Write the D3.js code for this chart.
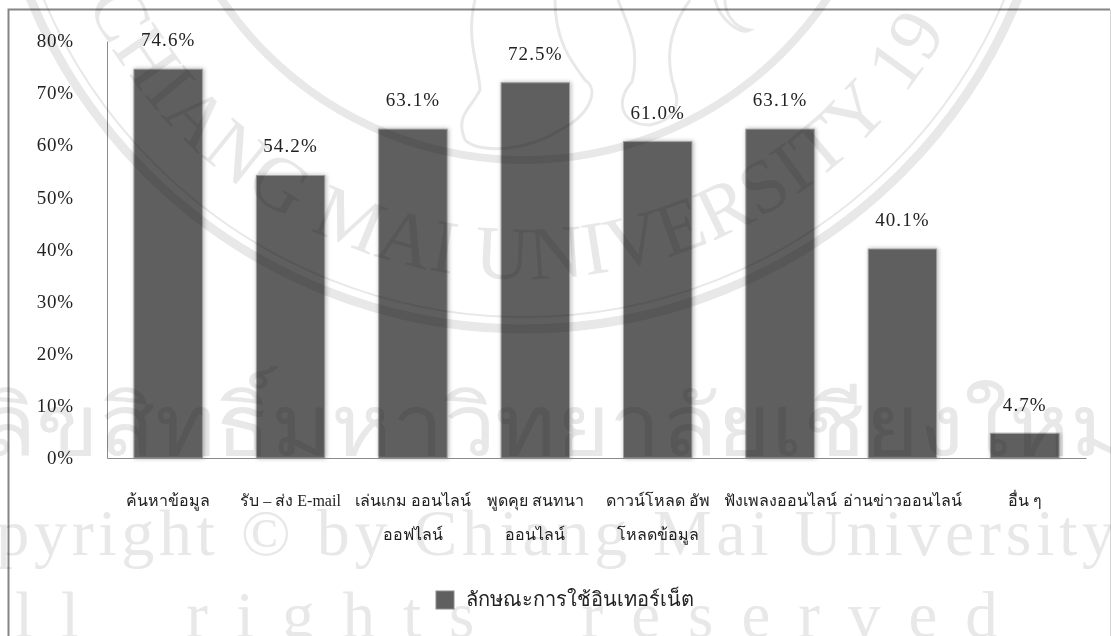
<!DOCTYPE html>
<html><head><meta charset="utf-8"><script src="https://cdn.jsdelivr.net/npm/d3@7"></script>
<style>html,body{margin:0;background:#fff}svg{display:block}</style></head><body><div id="c"></div>
<script>
const categories=[["ค้นหาข้อมูล"],["รับ – ส่ง E-mail"],["เล่นเกม ออนไลน์","ออฟไลน์"],["พูดคุย สนทนา","ออนไลน์"],["ดาวน์โหลด อัพ","โหลดข้อมูล"],["ฟังเพลงออนไลน์"],["อ่านข่าวออนไลน์"],["อื่น ๆ"]];
const barValues=[74.6,54.2,63.1,72.0,60.7,63.1,40.1,4.7];
const printedValues=[74.6,54.2,63.1,72.5,61.0,63.1,40.1,4.7];
const yTicks=[0,10,20,30,40,50,60,70,80];
const legendLabel="ลักษณะการใช้อินเทอร์เน็ต";
const wmLines=["ลิขสิทธิ์มหาวิทยาลัยเชียงใหม่","Copyright © by Chiang Mai University","All rights reserved"];
const sealText="CHIANG MAI UNIVERSITY 19";
const W=1111,H=636,serif="'Liberation Serif','Noto Sans',serif";
const svg=d3.select("#c").append("svg").attr("width",W).attr("height",H);
const defs=svg.append("defs");
const f=defs.append("filter").attr("id","sh").attr("x","-10%").attr("y","-5%").attr("width","120%").attr("height","110%");
f.append("feDropShadow").attr("dx",1).attr("dy",0).attr("stdDeviation",2).attr("flood-color","#000").attr("flood-opacity",.3);
// frame
svg.append("path").attr("d",`M8.5 ${H} V9.5 H1110`).attr("fill","none").attr("stroke","#858585").attr("stroke-width",2);
svg.append("path").attr("d",`M1110.5 10 V${H}`).attr("fill","none").attr("stroke","#d5d5d5");
const x=d3.scaleBand().domain(d3.range(barValues.length)).range([107,1086]).paddingInner(.44).paddingOuter(.22);
const y=d3.scaleLinear().domain([0,80]).range([458,41]);
svg.selectAll("rect.b").data(barValues).join("rect").attr("class","b").attr("x",(d,i)=>x(i)).attr("y",d=>y(d)).attr("width",x.bandwidth()).attr("height",d=>y(0)-y(d)).attr("fill","#5f5f5f").attr("stroke","#a0a0a0").attr("filter","url(#sh)");
const yA=svg.append("g").attr("transform","translate(107,0)").call(d3.axisLeft(y).tickValues(yTicks).tickSize(0).tickPadding(33).tickFormat(d=>d+"%"));
yA.select(".domain").attr("stroke","#8a8a8a");
yA.selectAll("text").attr("font-family",serif).attr("font-size",19).attr("letter-spacing",.8).attr("fill","#222").attr("dy","0.3em");
const xA=svg.append("g").attr("transform","translate(0,458)").call(d3.axisBottom(x).tickSize(0).tickFormat(""));
xA.select(".domain").attr("stroke","#8a8a8a");
xA.selectAll(".tick text").remove();
svg.selectAll("text.cat").data(categories).join("text").attr("class","cat").attr("font-family",serif).attr("font-size",16).attr("fill","#222").attr("text-anchor","middle")
 .attr("transform",(d,i)=>`translate(${x(i)+x.bandwidth()/2},${y(0)})`)
 .selectAll("tspan").data(d=>d).join("tspan").attr("x",0).attr("y",(d,i)=>48+i*34).text(d=>d);
svg.selectAll("text.v").data(printedValues).join("text").attr("class","v").attr("x",(d,i)=>x(i)+x.bandwidth()/2).attr("y",(d,i)=>y(barValues[i])-23).attr("text-anchor","middle").attr("font-family",serif).attr("font-size",19).attr("letter-spacing",1.1).attr("fill","#222").text(d=>d.toFixed(1)+"%");
const lg=svg.append("g");
lg.append("rect").attr("x",436).attr("y",591).attr("width",18).attr("height",18).attr("fill","#5f5f5f").attr("stroke","#8c8c8c");
lg.append("text").attr("x",466).attr("y",606).attr("font-family",serif).attr("font-size",20).attr("fill","#222").text(legendLabel);
// watermark, multiplied over everything so it shows through the bars
const wm=svg.append("g").style("mix-blend-mode","multiply");
const t=wm.append("g").attr("fill","#e8e8e8").attr("font-family",serif);
t.append("text").attr("x",-20).attr("y",455).attr("font-size",84).attr("textLength",1150).attr("lengthAdjust","spacingAndGlyphs").text(wmLines[0]);
t.append("text").attr("x",-90).attr("y",555).attr("font-size",66).attr("textLength",1205).attr("lengthAdjust","spacing").text(wmLines[1]);
t.append("text").attr("x",-60).attr("y",637).attr("font-size",65).attr("letter-spacing",28).attr("word-spacing",35).text(wmLines[2]);
const cx=524,cy=-205;
const seal=wm.append("g").attr("fill","none").attr("stroke","#e8e8e8");
seal.append("circle").attr("cx",cx).attr("cy",cy).attr("r",534).attr("stroke-width",9);
seal.append("circle").attr("cx",cx).attr("cy",cy).attr("r",522).attr("stroke-width",2);
seal.append("circle").attr("cx",cx).attr("cy",cy).attr("r",365).attr("stroke-width",8);
const ap=d3.path();ap.arc(cx,cy,484,2.72,0.45,true);
defs.append("path").attr("id","sealArc").attr("d",ap.toString());
wm.append("text").attr("fill","#e8e8e8").attr("font-size",76).attr("font-family",serif)
 .append("textPath").attr("href","#sealArc").attr("startOffset",10).attr("textLength",1060).attr("lengthAdjust","spacing").text(sealText);
// elephant legs in the seal
const el=wm.append("g").attr("fill","none").attr("stroke","#e8e8e8").attr("stroke-width",3);
["M475 0 C465 40 480 70 480 90 C470 110 455 115 465 140 C480 155 530 150 560 130 C590 115 600 90 585 80 C570 60 555 40 555 0",
 "M618 0 C630 30 640 50 632 82 C615 100 620 125 650 125 C675 120 680 105 675 90 C665 60 668 30 690 0",
 "M715 0 C720 20 740 35 750 30 C735 28 725 15 725 0"].forEach(d=>el.append("path").attr("d",d));
</script></body></html>
